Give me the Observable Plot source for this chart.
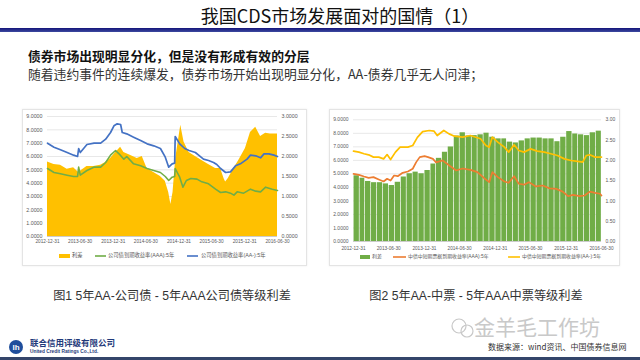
<!DOCTYPE html>
<html><head><meta charset="utf-8">
<script src="https://cdn.jsdelivr.net/npm/d3@7"></script>
<script src="https://cdn.jsdelivr.net/npm/@observablehq/plot@0.6"></script>
<style>
body{margin:0;background:#fff;}
#page{position:relative;width:640px;height:360px;overflow:hidden;font-family:"Noto Sans CJK SC","Liberation Sans",sans-serif;background:#fff;}
.abs{position:absolute;white-space:nowrap;}
.panel{position:absolute;border:1px solid #e4e4e4;box-shadow:0 0 2px rgba(0,0,0,0.08);background:#fff;}
#leftChart,#rightChart{position:absolute;}
svg text{font-family:"Liberation Sans","Noto Sans CJK SC",sans-serif;}
</style></head><body><div id="page">
<div class="abs" style="left:0;top:3px;width:680px;text-align:center;font-size:18px;line-height:24px;color:#111;">我国CDS市场发展面对的国情（1）</div>
<div class="abs" style="left:0;top:28px;width:640px;height:4px;background:linear-gradient(#14147a,#3c4aa0);"></div>
<div class="abs" style="left:28px;top:48px;font-size:12.8px;line-height:15px;font-weight:bold;color:#111;">债券市场出现明显分化，但是没有形成有效的分层</div>
<div class="abs" style="left:28px;top:66px;font-size:12.8px;line-height:15px;color:#333;">随着违约事件的连续爆发，债券市场开始出现明显分化，AA-债券几乎无人问津；</div>
<div class="panel" style="left:22px;top:109px;width:283px;height:155px;"></div>
<div class="panel" style="left:329px;top:109px;width:289px;height:155px;"></div>
<div id="leftChart" style="left:20px;top:108px;"></div>
<div id="rightChart" style="left:328px;top:110px;"></div>
<svg class="abs" style="left:0;top:0;" width="640" height="360">
  <g font-family="Noto Sans CJK SC, sans-serif" fill="#595959">
    <rect x="59" y="254" width="11" height="4" fill="#FFC000"/>
    <text x="72" y="256" font-size="5.3" dominant-baseline="middle">利差</text>
    <line x1="95" x2="106" y1="256" y2="256" stroke="#70AD47" stroke-width="1.6"/>
    <text x="108" y="256" font-size="5.3" dominant-baseline="middle">公司债到期收益率(AAA):5年</text>
    <line x1="187" x2="198" y1="256" y2="256" stroke="#4472C4" stroke-width="1.6"/>
    <text x="201" y="256" font-size="5.3" dominant-baseline="middle">公司债到期收益率(AA-):5年</text>
    <rect x="360" y="255" width="10" height="4" fill="#70AD47"/>
    <text x="372" y="257" font-size="5" dominant-baseline="middle">利差</text>
    <line x1="393" x2="406" y1="257" y2="257" stroke="#ED7D31" stroke-width="1.6"/>
    <text x="408" y="257" font-size="4.9" dominant-baseline="middle">中债中短期票据到期收益率(AAA):5年</text>
    <line x1="508" x2="520" y1="257" y2="257" stroke="#FFC000" stroke-width="1.6"/>
    <text x="522" y="257" font-size="4.9" dominant-baseline="middle">中债中短期票据到期收益率(AA-):5年</text>
  </g>
  <g fill="none" stroke="#c8c8c8" stroke-width="1.2">
    <circle cx="459" cy="326" r="7"/><circle cx="467" cy="331" r="6"/>
  </g>
  <g>
    <circle cx="16" cy="347" r="7" fill="#1f4e9c"/>
    <text x="16" y="349.5" font-size="8" fill="#fff" text-anchor="middle" font-weight="bold" font-family="Liberation Sans">lh</text>
    <text x="30" y="346" font-size="8.5" fill="#1f3a7a" font-weight="bold" font-family="Noto Sans CJK SC">联合信用评级有限公司</text>
    <text x="30" y="353" font-size="4.8" fill="#1f3a7a" font-family="Liberation Sans" font-weight="bold">United Credit Ratings Co.,Ltd.</text>
  </g>
</svg>
<div class="abs" style="left:0;top:288px;width:344px;text-align:center;font-size:12.2px;line-height:16px;color:#333;font-family:'Liberation Sans','Noto Sans CJK SC',sans-serif;">图1 5年AA-公司债 - 5年AAA公司债等级利差</div>
<div class="abs" style="left:352px;top:288px;width:248px;text-align:center;font-size:12.2px;line-height:16px;color:#333;font-family:'Liberation Sans','Noto Sans CJK SC',sans-serif;">图2 5年AA-中票 - 5年AAA中票等级利差</div>
<div class="abs" style="left:474px;top:314px;font-size:21px;line-height:24px;color:#c9c9c9;">金羊毛工作坊</div>
<div class="abs" style="left:488px;top:341px;font-size:8px;line-height:11px;color:#333;">数据来源：wind资讯、中国债券信息网</div>
<div class="abs" style="left:0;top:357px;width:640px;height:3px;background:#34456a;"></div>
</div>
<script>
// ---------- shared ticks ----------
const xTickLabels = ["2012-12-31","2013-06-30","2013-12-31","2014-06-30","2014-12-31","2015-06-30","2015-12-31","2016-06-30"];
const leftTicks = [0,1,2,3,4,5,6,7,8,9];
const rightTicks = [0,0.5,1,1.5,2,2.5,3];

// ---------- Chart 1: corporate bonds ----------
const L_spreadDates = ["2012-12-31","2013-02-05","2013-03-13","2013-04-19","2013-05-25","2013-06-22","2013-08-07","2013-09-14","2013-10-22","2013-11-19","2013-12-16","2014-01-04","2014-02-10","2014-02-28","2014-04-04","2014-05-13","2014-06-10","2014-07-07","2014-08-13","2014-09-19","2014-10-16","2014-11-04","2014-11-16","2014-11-28","2014-12-13","2015-01-10","2015-01-28","2015-02-25","2015-04-01","2015-05-07","2015-06-13","2015-07-22","2015-08-19","2015-09-07","2015-09-16","2015-10-01","2015-11-01","2015-11-28","2016-01-04","2016-02-01","2016-03-01","2016-03-28","2016-04-25","2016-05-22","2016-06-30"];
const L_spread = [1.86,1.80,1.78,1.68,1.72,1.60,1.75,1.75,1.78,1.85,1.95,2.05,2.23,2.10,2.03,1.95,2.00,1.70,1.60,1.50,1.38,1.10,0.80,1.10,1.95,2.78,2.36,2.10,2.00,1.90,1.80,1.70,1.70,1.45,1.36,1.45,1.70,1.90,2.20,2.60,2.73,2.50,2.58,2.56,2.56];

const L_aaaDates = ["2012-12-31","2013-02-05","2013-03-13","2013-04-19","2013-05-25","2013-06-16","2013-06-22","2013-07-01","2013-08-07","2013-09-14","2013-10-22","2013-11-19","2013-12-16","2014-01-13","2014-02-01","2014-02-28","2014-03-16","2014-04-23","2014-06-01","2014-07-07","2014-08-13","2014-09-19","2014-10-16","2014-11-04","2014-11-23","2014-12-07","2014-12-10","2015-01-04","2015-01-22","2015-02-10","2015-03-07","2015-04-10","2015-05-07","2015-06-13","2015-07-22","2015-08-19","2015-09-16","2015-10-13","2015-11-01","2015-11-19","2015-12-25","2016-02-01","2016-03-01","2016-03-28","2016-04-25","2016-06-01","2016-06-30"];
const L_aaa = [5.1,4.8,4.7,4.6,4.5,4.5,5.2,4.6,4.95,5.2,5.2,5.55,6.1,6.45,6.2,5.8,6.0,5.45,5.3,5.1,4.95,4.8,4.5,4.2,4.45,4.5,5.1,4.45,3.7,4.2,4.35,4.3,4.1,3.95,3.55,3.3,3.35,3.25,3.1,3.35,3.25,3.55,3.4,3.35,3.7,3.55,3.45];

const L_aamDates = ["2012-12-31","2013-02-05","2013-03-13","2013-04-19","2013-05-25","2013-06-16","2013-06-22","2013-07-01","2013-08-07","2013-09-16","2013-10-22","2013-11-19","2013-12-16","2014-01-04","2014-01-22","2014-02-10","2014-02-19","2014-03-16","2014-04-23","2014-06-01","2014-07-07","2014-08-13","2014-09-19","2014-10-16","2014-11-04","2014-11-23","2014-12-07","2014-12-10","2015-01-04","2015-02-01","2015-02-25","2015-04-01","2015-04-19","2015-05-16","2015-06-13","2015-07-11","2015-07-29","2015-08-19","2015-09-16","2015-10-13","2015-11-10","2015-12-07","2016-01-13","2016-02-01","2016-03-01","2016-03-28","2016-04-16","2016-05-13","2016-06-10","2016-06-30"];
const L_aam = [7.0,6.7,6.5,6.3,6.1,6.0,6.6,6.3,6.9,7.0,7.0,7.3,7.8,8.3,8.45,8.4,7.8,7.7,7.45,7.2,6.95,6.8,6.6,5.95,5.2,5.45,5.5,7.5,6.95,6.6,6.45,6.3,6.1,5.8,5.7,5.55,5.4,5.1,4.8,4.85,5.3,5.45,5.8,6.1,6.05,5.9,6.2,6.2,6.1,6.0];

// ---------- Chart 2: medium-term notes ----------
const R_spreadMonths = ["2013-01","2013-02","2013-03","2013-04","2013-05","2013-06","2013-07","2013-08","2013-09","2013-10","2013-11","2013-12","2014-01","2014-02","2014-03","2014-04","2014-05","2014-06","2014-07","2014-08","2014-09","2014-10","2014-11","2014-12","2015-01","2015-02","2015-03","2015-04","2015-05","2015-06","2015-07","2015-08","2015-09","2015-10","2015-11","2015-12","2016-01","2016-02","2016-03","2016-04","2016-05","2016-06"];
const R_spread = [1.62,1.56,1.48,1.45,1.45,1.42,1.38,1.46,1.59,1.67,1.71,1.67,1.75,1.91,2.05,2.20,2.33,2.60,2.68,2.60,2.61,2.63,2.67,2.57,2.53,2.53,2.45,2.43,2.48,2.53,2.55,2.55,2.53,2.53,2.46,2.57,2.71,2.65,2.63,2.61,2.68,2.72];

const R_aaaDates = ["2012-12-31","2013-01-28","2013-02-23","2013-03-19","2013-04-13","2013-05-10","2013-06-04","2013-06-22","2013-07-10","2013-07-28","2013-08-16","2013-09-10","2013-10-07","2013-11-01","2013-11-19","2013-12-07","2014-01-01","2014-01-19","2014-02-13","2014-03-01","2014-04-04","2014-05-10","2014-06-13","2014-07-16","2014-08-25","2014-09-30","2014-11-04","2014-11-30","2014-12-16","2015-01-13","2015-02-16","2015-03-10","2015-04-07","2015-05-01","2015-05-28","2015-06-22","2015-07-28","2015-09-01","2015-10-07","2015-11-10","2015-12-13","2016-01-10","2016-02-04","2016-03-10","2016-04-04","2016-05-01","2016-05-28","2016-06-22","2016-06-30"];
const R_aaa = [5.0,4.93,4.81,4.71,4.76,4.59,4.44,4.64,4.51,4.88,4.83,5.08,5.18,5.38,5.87,6.24,6.31,6.24,6.11,5.85,6.0,5.6,5.25,5.4,5.3,5.13,4.68,4.39,5.13,4.76,4.44,4.34,4.83,4.27,4.2,4.39,4.07,4.14,3.93,3.89,3.69,3.35,3.45,3.35,3.4,3.69,3.6,3.53,3.4];

const R_aamDates = ["2012-12-31","2013-01-28","2013-02-23","2013-03-19","2013-04-13","2013-05-10","2013-06-04","2013-06-22","2013-07-10","2013-08-04","2013-08-28","2013-10-07","2013-11-01","2013-11-25","2013-12-22","2014-01-25","2014-02-19","2014-03-07","2014-04-10","2014-05-07","2014-06-04","2014-07-16","2014-08-25","2014-10-16","2014-11-13","2014-11-30","2014-12-16","2015-01-13","2015-02-16","2015-03-10","2015-04-07","2015-05-01","2015-05-28","2015-07-01","2015-08-04","2015-09-10","2015-10-13","2015-11-16","2015-12-22","2016-01-25","2016-02-28","2016-03-25","2016-04-13","2016-05-01","2016-05-28","2016-06-30"];
const R_aam = [6.68,6.61,6.49,6.41,6.24,6.24,6.11,6.43,6.06,6.61,6.98,6.98,7.1,7.7,8.13,8.21,8.16,7.84,8.21,7.96,7.79,7.72,7.84,7.6,7.1,6.98,7.72,7.35,6.98,6.61,7.15,6.73,6.61,6.85,6.68,6.61,6.49,6.36,6.11,5.99,5.92,5.87,6.36,6.41,6.24,6.24];

// ---------- build ----------
const rows = (dates, vals) => dates.map((d, i) => ({date: new Date(d), v: vals[i]}));
const xDomain = [new Date("2012-12-31"), new Date("2016-06-30")];
const labelColor = "#595959";

function chart({width, height, margins, spreadMark, lines, leftFmt, rightFmt, xdy, fs}) {
  return Plot.plot({
    width, height,
    marginLeft: margins[0], marginRight: margins[1], marginTop: margins[2], marginBottom: margins[3],
    x: {type: "utc", domain: xDomain, axis: null},
    y: {domain: [0, 9], axis: null},
    style: {background: "none", overflow: "visible"},
    marks: [
      Plot.ruleY(leftTicks.filter(d => d > 0), {stroke: "#D9D9D9", strokeWidth: 0.6}),
      spreadMark,
      Plot.ruleY([0], {stroke: "#BFBFBF", strokeWidth: 0.8}),
      ...lines,
      Plot.text(leftTicks, {y: d => d, text: leftFmt, frameAnchor: "left", textAnchor: "end", dx: -5, fontSize: fs, fill: labelColor}),
      Plot.text(rightTicks, {y: d => d * 3, text: rightFmt, frameAnchor: "right", textAnchor: "start", dx: 4, fontSize: fs, fill: labelColor}),
      Plot.text(xTickLabels, {x: d => new Date(d), text: d => d, frameAnchor: "bottom", dy: xdy, fontSize: 4.7, fill: labelColor})
    ]
  });
}

const left = chart({
  width: 290, height: 142, margins: [27, 33, 8, 14], xdy: 6, fs: 5.3,
  spreadMark: Plot.areaY(rows(L_spreadDates, L_spread), {x: "date", y: d => d.v * 3, fill: "#FFC000"}),
  lines: [
    Plot.lineY(rows(L_aaaDates, L_aaa), {x: "date", y: "v", stroke: "#70AD47", strokeWidth: 1.6}),
    Plot.lineY(rows(L_aamDates, L_aam), {x: "date", y: "v", stroke: "#4472C4", strokeWidth: 1.7})
  ],
  leftFmt: d => d.toFixed(4), rightFmt: d => d.toFixed(4)
});
document.getElementById("leftChart").appendChild(left);

const rSpreadRows = R_spreadMonths.map((m, i) => {
  const s = new Date(m + "-01");
  return {x1: s, x2: d3.utcMonth.offset(s, 1), v: R_spread[i]};
});
const right = chart({
  width: 292, height: 145, margins: [25, 19, 9.3, 14], xdy: 8, fs: 5,
  spreadMark: Plot.rectY(rSpreadRows, {x1: "x1", x2: "x2", y: d => d.v * 3, fill: "#70AD47", insetLeft: 0.35, insetRight: 0.35}),
  lines: [
    Plot.lineY(rows(R_aaaDates, R_aaa), {x: "date", y: "v", stroke: "#ED7D31", strokeWidth: 1.7}),
    Plot.lineY(rows(R_aamDates, R_aam), {x: "date", y: "v", stroke: "#FFC000", strokeWidth: 1.7})
  ],
  leftFmt: d => d.toFixed(4), rightFmt: d => d.toFixed(2)
});
document.getElementById("rightChart").appendChild(right);
</script>
</body></html>
